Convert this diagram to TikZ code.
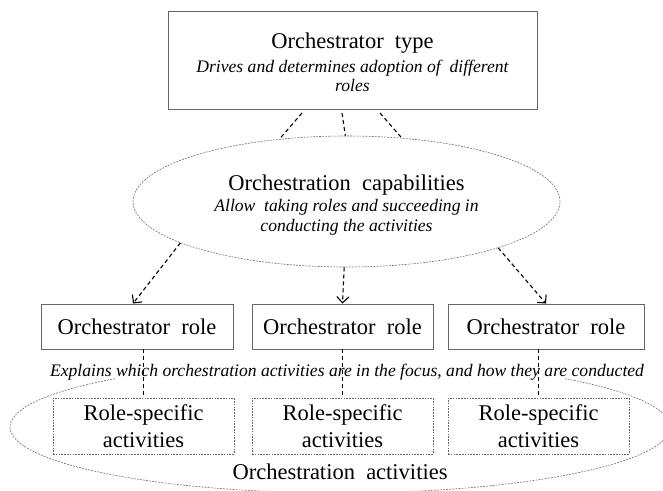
\documentclass[tikz,border=0pt]{standalone}
\usepackage{fontspec}
\setmainfont{Liberation Serif}
\usetikzlibrary{shapes.geometric,arrows.meta,calc}
\newcommand\hdfont{\fontsize{22.5}{21}\selectfont\upshape}
\newcommand\itfont{\fontsize{17.6}{21}\selectfont\itshape}
\tikzset{
  solidbox/.style={draw=black!60,line width=0.9pt,rectangle,inner sep=0pt,align=center},
  dotbox/.style={draw=black!60,line width=0.6pt,dash pattern=on 1.6pt off 1.2pt,rectangle,inner sep=0pt,align=center,font=\fontsize{22.5}{27}\selectfont},
  dotline/.style={draw=black!60,line width=0.6pt,dash pattern=on 1.8pt off 1.3pt},
  dotell/.style={dotline,ellipse,inner sep=0pt,align=center},
  conn/.style={draw=black,line width=1.1pt,dash pattern=on 4pt off 3pt},
  arr/.style={conn,-{Straight Barb[length=6pt,width=12pt,line width=1.1pt]}},
}
\begin{document}
\begin{tikzpicture}[x=1pt,y=-1pt]
\clip (0,0) rectangle (663,490);
\fill[white] (0,0) rectangle (663,490);
% bottom ellipse (open at the top where the explanation line runs)
\node[ellipse,inner sep=0pt,minimum width=660pt,minimum height=132pt] (acts) at (340,427) {};
\draw[dotline] (acts.center) ++(227:330 and 66) arc[start angle=227,end angle=-47,x radius=330,y radius=66];
% top box
\node[solidbox,minimum width=369pt,minimum height=98pt] (type) at (352.5,60)
  {{\hdfont\rule{0pt}{20pt}Orchestrator\ \ type}\\[5pt]{\itfont Drives and determines adoption of\ \ different}\\[2pt]{\itfont roles}};
% capabilities ellipse
\node[dotell,minimum width=427pt,minimum height=131pt] (cap) at (346.5,201.5)
  {{\hdfont\rule{0pt}{22pt}Orchestration\ \ capabilities}\\[3pt]{\itfont Allow\ \ taking roles and succeeding in}\\[3pt]{\itfont conducting the activities}};
% role boxes
\node[solidbox,minimum width=192pt,minimum height=45pt,font=\hdfont] (r1) at (137,326.5) {Orchestrator\ \ role};
\node[solidbox,minimum width=181pt,minimum height=45pt,font=\hdfont] (r2) at (342.5,326.5) {Orchestrator\ \ role};
\node[solidbox,minimum width=196pt,minimum height=45pt,font=\hdfont] (r3) at (546,326.5) {Orchestrator\ \ role};
% explanation line
\node[inner sep=0pt,font=\itfont] (expl) at (347,372)
  {Explains which orchestration activities are in the focus, and how they are conducted};
% role-specific boxes
\node[dotbox,minimum width=181pt,minimum height=56pt] (s1) at (143.5,426) {Role-specific\\activities};
\node[dotbox,minimum width=181pt,minimum height=56pt] (s2) at (342.5,426) {Role-specific\\activities};
\node[dotbox,minimum width=181pt,minimum height=56pt] (s3) at (538.5,426) {Role-specific\\activities};
\node[font=\hdfont] (actlabel) at (340,472) {Orchestration\ \ activities};
% connectors top box -> capabilities
\coordinate (t1) at (302,113);
\coordinate (t2) at (342,113);
\coordinate (t3) at (380,113);
\draw[conn] (t1) -- (cap.137);
\draw[conn] (t2) -- (cap.91);
\draw[conn] (t3) -- (cap.49);
% capabilities -> roles
\draw[arr] (cap.194) -- ($(r1.north)+(-4,0)$);
\draw[arr] (cap.268) -- (r2.north);
\draw[arr] (cap.343) -- (r3.north);
% roles -> role-specific
\draw[conn] (r1.south -| s1.north) -- (s1.north);
\draw[conn] (r2.south -| s2.north) -- (s2.north);
\draw[conn] (r3.south -| s3.north) -- (s3.north);
\end{tikzpicture}
\end{document}
